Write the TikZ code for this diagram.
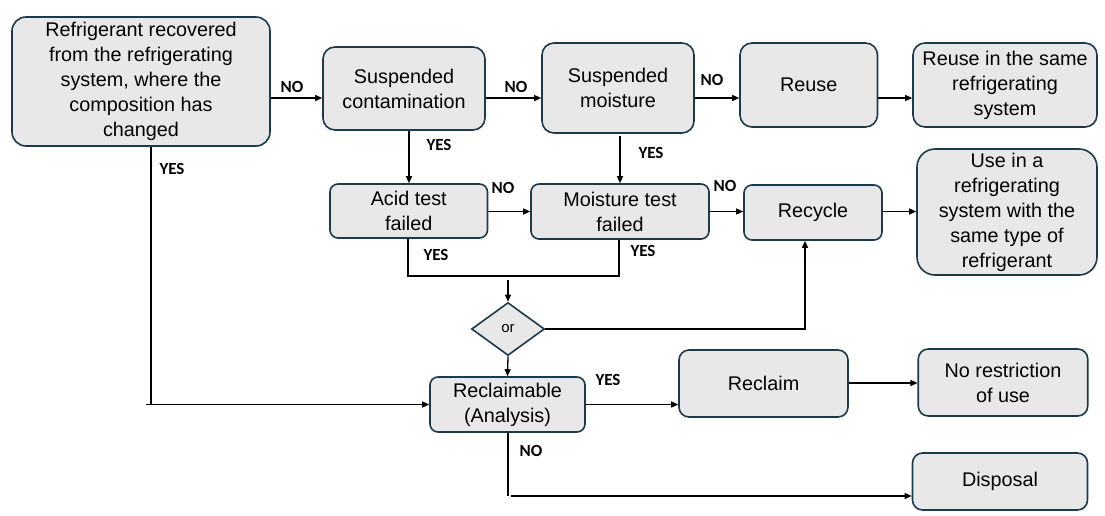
\documentclass[tikz,border=0pt]{standalone}
\usepackage{fontspec}
\setmainfont{Liberation Sans}
\newfontfamily\labelfont{Carlito}
\usetikzlibrary{arrows.meta,shapes.geometric}
\definecolor{boxfill}{HTML}{E8E8E8}
\definecolor{boxline}{HTML}{1C3A4A}
\begin{document}
\begin{tikzpicture}[x=1pt,y=-1pt,
  box/.style={draw=boxline, fill=boxfill, line width=1.6pt, rounded corners=#1,
    align=center, inner sep=0pt, font=\fontsize{19.8}{25}\selectfont},
  lbl/.style={font=\labelfont\bfseries\fontsize{17}{17}\selectfont, inner sep=0pt},
  arr/.style={line width=1.3pt, -{Triangle[length=7pt,width=6pt]}},
  ln/.style={line width=1.3pt}]
\useasboundingbox (0,0) rectangle (1105,515);

% boxes
\node[box=14pt, minimum width=258pt, minimum height=129pt] (start) at (141,81.5)
  {Refrigerant recovered\\from the refrigerating\\system, where the\\composition has\\changed};
\node[box=12pt, minimum width=162pt, minimum height=83pt] (contam) at (404,88.5)
  {Suspended\\contamination};
\node[box=12pt, minimum width=152pt, minimum height=90pt] (smoist) at (618,88)
  {Suspended\\moisture};
\node[box=12pt, minimum width=137.5pt, minimum height=84pt] (reuse) at (808.75,85)
  {Reuse};
\node[box=12pt, minimum width=184pt, minimum height=84pt] (reusesame) at (1005,85)
  {Reuse in the same\\refrigerating\\system};
\node[box=8pt, minimum width=157.5pt, minimum height=54pt] (acid) at (408.75,211)
  {Acid test\\failed};
\node[box=8pt, minimum width=178pt, minimum height=55pt] (mtest) at (620,211.5)
  {Moisture test\\failed};
\node[box=8pt, minimum width=138pt, minimum height=55pt] (recycle) at (813,212.5)
  {Recycle};
\node[box=18pt, minimum width=180pt, minimum height=126pt] (usein) at (1007,212)
  {Use in a\\refrigerating\\system with the\\same type of\\refrigerant};
\node[diamond, draw=boxline, fill=boxfill, line width=1.6pt, shape aspect=1.38,
  minimum width=73pt, minimum height=53pt, inner sep=0pt,
  font=\fontsize{15}{15}\selectfont] (orgate) at (508,329) {or};
\node[box=8pt, minimum width=155pt, minimum height=55pt] (reclaimable) at (507.5,404.5)
  {Reclaimable\\(Analysis)};
\node[box=10pt, minimum width=169pt, minimum height=67pt] (reclaim) at (763.5,383.5)
  {Reclaim};
\node[box=10pt, minimum width=169.5pt, minimum height=67pt] (norestr) at (1003,382.5)
  {No restriction\\of use};
\node[box=10pt, minimum width=175pt, minimum height=57pt] (disposal) at (1000,481.5)
  {Disposal};

% helper coordinates for connector heights
\coordinate (rowA) at (0,98);
\coordinate (rowB) at (0,211.5);
\coordinate (merge) at (0,276);
\coordinate (orrow) at (0,329);
\coordinate (recl) at (0,404.5);
\coordinate (clm) at (0,383);
\coordinate (disp) at (0,496);
\coordinate (colL) at (151,0);
\coordinate (colAcid) at (408,0);
\coordinate (colM) at (619,0);
\coordinate (colOr) at (508,0);
\coordinate (colR) at (805,0);

% top row
\draw[arr] (start.east |- rowA) -- (contam.west |- rowA);
\draw[arr] (contam.east |- rowA) -- (smoist.west |- rowA);
\draw[arr] (smoist.east |- rowA) -- (reuse.west |- rowA);
\draw[arr] (reuse.east |- rowA) -- (reusesame.west |- rowA);

% down to the tests
\draw[arr] (contam.south -| colAcid) ++(1,0) -- (acid.north -| 409,0);
\draw[arr] (smoist.south -| 620,0) ++(0,2) -- (mtest.north -| 620,0);

% middle row
\draw[arr] (acid.east |- rowB) -- (mtest.west |- rowB);
\draw[arr] (mtest.east |- rowB) -- (recycle.west |- rowB);
\draw[arr] (recycle.east |- rowB) -- (usein.west |- rowB);

% test failures merge into the "or" gate
\draw[ln] (acid.south -| colAcid) -- (colAcid |- merge) -- (colM |- merge) -- (mtest.south -| colM);
\coordinate (join) at (colOr |- merge);
\draw[arr] ([yshift=-4pt]join) -- (orgate.north);
\draw[arr] (orgate.south) -- (reclaimable.north);
\draw[arr] (orgate.east) -- (colR |- orrow) -- (recycle.south -| colR);

% composition changed -> analysis
\draw[arr] (start.south -| colL) -- (colL |- recl) ++(-5,0) -- (reclaimable.west);
\draw[ln] (start.south -| colL) -- (colL |- recl);

% bottom row
\draw[arr] (reclaimable.east |- recl) -- (reclaim.west |- recl);
\draw[arr] (reclaim.east |- clm) -- (norestr.west |- clm);
\draw[ln] (reclaimable.south -| colOr) -- (colOr |- disp);
\draw[arr] ([xshift=3pt]colOr |- disp) -- (disposal.west |- disp);

% branch labels
\node[lbl] (noA) at (292,87) {NO};
\node[lbl] (noB) at (516,87) {NO};
\node[lbl] (noC) at (712,80) {NO};
\node[lbl] (yesA) at (439,145) {YES};
\node[lbl] (yesB) at (651,153) {YES};
\node[lbl] (noD) at (503,188) {NO};
\node[lbl] (noE) at (725,186) {NO};
\node[lbl] (yesC) at (172,169) {YES};
\node[lbl] (yesD) at (436,255) {YES};
\node[lbl] (yesE) at (643,251) {YES};
\node[lbl] (yesF) at (608,380) {YES};
\node[lbl] (noF) at (531,451) {NO};
\end{tikzpicture}
\end{document}
